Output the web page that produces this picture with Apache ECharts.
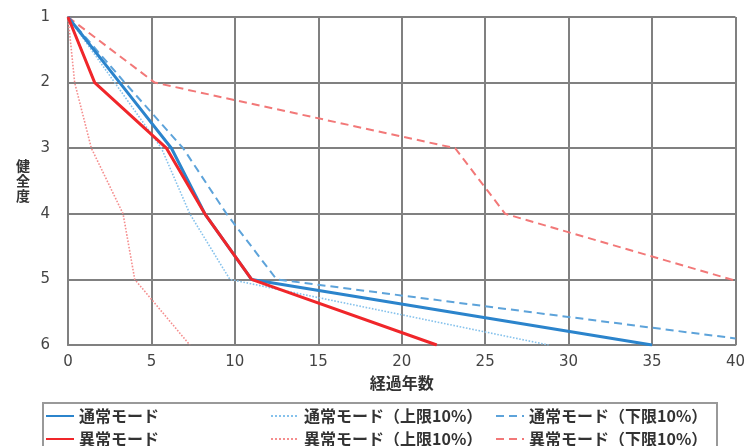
<!DOCTYPE html>
<html>
<head>
<meta charset="utf-8">
<script src="https://cdn.jsdelivr.net/npm/echarts@6/dist/echarts.min.js"></script>
<style>html,body{margin:0;padding:0;background:#fff}#c{width:748px;height:446px}</style>
</head>
<body>
<div id="c"></div>
<script>
const seriesNames = ['通常モード','異常モード','通常モード（上限10%）','異常モード（上限10%）','通常モード（下限10%）','異常モード（下限10%）'];
const normal      = [[0,1],[3.1,2],[6.2,3],[8.2,4],[11,5],[35,6]];
const abnormal    = [[0,1],[1.6,2],[5.9,3],[8.2,4],[11,5],[22.1,6]];
const normalUp    = [[0,1],[2.8,2],[5.6,3],[7.3,4],[9.7,5],[28.8,6]];
const abnormalUp  = [[0,1],[0.4,2],[1.4,3],[3.3,4],[4.0,5],[7.3,6]];
const normalLow   = [[0,1],[3.4,2],[6.9,3],[9.5,4],[12.5,5],[40,5.9]];
const abnormalLow = [[0,1],[5.2,2],[23.2,3],[26.2,4],[40,5.02]];
const xTicks = [0,5,10,15,20,25,30,35,40];
const yTicks = [1,2,3,4,5,6];

const font = '"Noto Sans CJK JP", "Noto Sans", sans-serif';
const chart = echarts.init(document.getElementById('c'));
function mk(name, data, color, width, type, z) {
  return {name, type:'line', data, symbol:'none', z,
    lineStyle:{color, width, type}, itemStyle:{color}, animation:false};
}
const legendBase = {orient:'vertical', top:408, height:80, itemWidth:28, itemHeight:14, itemGap:7, padding:0,
  itemStyle:{opacity:0, borderWidth:0},
  textStyle:{fontSize:16, color:'#333', fontFamily:font, fontWeight:'bold'}};
chart.setOption({
  animation:false,
  grid:{left:68, right:10, top:17, bottom:101},
  xAxis:{type:'value', min:xTicks[0], max:xTicks[xTicks.length-1], interval:5,
    name:'経過年数', nameLocation:'middle', nameGap:30,
    nameTextStyle:{fontSize:16, color:'#333', fontFamily:font, fontWeight:'bold'},
    axisLine:{show:true, lineStyle:{color:'#808080', width:2}},
    axisTick:{show:false},
    axisLabel:{fontSize:15, color:'#444', margin:10, fontFamily:'"DejaVu Sans", sans-serif'},
    splitLine:{show:true, lineStyle:{color:'#808080', width:2}}},
  yAxis:{type:'value', min:yTicks[0], max:yTicks[yTicks.length-1], interval:1, inverse:true,
    name:'健\n全\n度', nameLocation:'middle', nameGap:38, nameRotate:0,
    nameTextStyle:{fontSize:14, lineHeight:15, color:'#333', fontFamily:font, fontWeight:'bold', padding:[0,0,34,0]},
    axisLine:{show:true, lineStyle:{color:'#808080', width:2}},
    axisTick:{show:false},
    axisLabel:{fontSize:15, color:'#444', margin:18, fontFamily:'"DejaVu Sans", sans-serif'},
    splitLine:{show:true, lineStyle:{color:'#808080', width:2}}},
  legend:[
    Object.assign({left:45, data:[seriesNames[0],seriesNames[1]]}, legendBase),
    Object.assign({left:270, data:[seriesNames[2],seriesNames[3]]}, legendBase),
    Object.assign({left:495, data:[seriesNames[4],seriesNames[5]]}, legendBase)
  ],
  graphic:[{type:'rect', shape:{x:43, y:403, width:674, height:50}, style:{fill:'none', stroke:'#999', lineWidth:2}, z:-1}],
  series:[
    mk(seriesNames[0], normal, '#2b84cc', 3, 'solid', 5),
    mk(seriesNames[1], abnormal, '#f0262a', 3, 'solid', 6),
    mk(seriesNames[2], normalUp, '#86c2ec', 1.6, 'dotted', 3),
    mk(seriesNames[3], abnormalUp, '#f58e8e', 1.6, 'dotted', 3),
    mk(seriesNames[4], normalLow, '#5da3da', 2, [8,5], 4),
    mk(seriesNames[5], abnormalLow, '#f27878', 2, [8,5], 4)
  ]
});
</script>
</body>
</html>
